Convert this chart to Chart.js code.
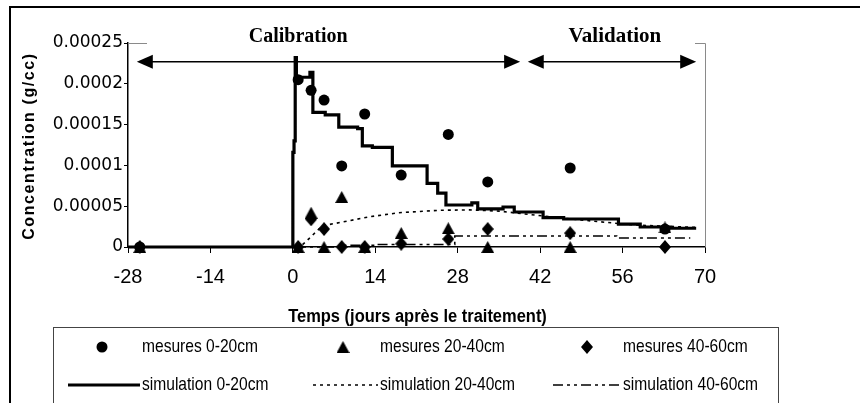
<!DOCTYPE html>
<html>
<head>
<meta charset="utf-8">
<script src="https://cdn.jsdelivr.net/npm/chart.js@4.4.1/dist/chart.umd.min.js"></script>
<style>
  html, body { margin: 0; padding: 0; background: #fff; }
</style>
</head>
<body>
<canvas id="chart" width="860" height="403"></canvas>
<script>
// ticks
const xTicks = [-28, -14, 0, 14, 28, 42, 56, 70];
const yTicks = [0, 0.00005, 0.0001, 0.00015, 0.0002, 0.00025];
const yTickLabels = ['0', '0.00005', '0.0001', '0.00015', '0.0002', '0.00025'];

// measurements (days after treatment)
const measureDays = [-26, 0.9, 3.1, 5.3, 8.3, 12.2, 18.4, 26.4, 33.1, 47.1, 63.2];
const mesures0_20  = [0, 0.000205, 0.000192, 0.00018, 0.0000993, 0.000163, 0.0000882, 0.000138, 0.0000797, 0.0000968, 0.000022];
const mesures20_40 = [0, 0, 0.000042, 0, 0.0000613, 0, 0.0000172, 0.000023, 0, 0, 0.000024];
const mesures40_60 = [0, 0, 0.000034, 0.000022, 0, 0, 0.000004, 0.0000098, 0.000022, 0.000017, 0];

// simulation 0-20cm (step levels: start day, value)
const sim0Days = [-28, 0, 0.2, 0.4, 0.6, 2.9, 3.4, 5.5, 7.8, 11.0, 11.8, 13.5, 16.9, 22.8, 24.6, 26.0, 30.4, 31.4, 35.7, 37.6, 42.5, 46.0, 55.3, 59.0, 64.0, 68.5];
const sim0Vals = [0, 0.000116, 0.00013, 0.000232, 0.000208, 0.000214, 0.000165, 0.000162, 0.000147, 0.000145, 0.000124, 0.000122, 0.0000993, 0.000078, 0.000066, 0.0000515, 0.000054, 0.0000466, 0.000049, 0.0000429, 0.000036, 0.0000343, 0.000028, 0.0000245, 0.000023, 0.000023];

// simulation 20-40cm
const sim20Days = [-28, 0, 1.5, 3, 5, 8, 13, 18, 25, 30, 35, 40, 45, 52, 58, 68.5];
const sim20Vals = [0, 0, 0.000002, 0.000012, 0.000026, 0.00003, 0.000037, 0.000042, 0.000045, 0.0000455, 0.000044, 0.00004, 0.000036, 0.000031, 0.000027, 0.000024];

// simulation 40-60cm (step levels)
const sim40Days = [-28, 0, 8, 14, 27.5, 55, 67.5];
const sim40Vals = [0, 0, 0.000002, 0.000003, 0.0000135, 0.000011, 0.000011];

// annotations
const calibration = { from: -26.5, to: 38.6, label: 'Calibration', center: 0.9 };
const validation = { from: 39.9, to: 68.5, label: 'Validation', center: 54.7 };
const arrowLevel = 0.000227;

function zip(xs, ys) {
  return xs.map((x, i) => ({ x: x, y: ys[i] }));
}

function triangleMarker() {
  const c = document.createElement('canvas');
  c.width = 13; c.height = 12;
  const g = c.getContext('2d');
  g.fillStyle = '#000';
  g.beginPath();
  g.moveTo(6.5, 0); g.lineTo(13, 12); g.lineTo(0, 12);
  g.closePath(); g.fill();
  return c;
}

function diamondMarker() {
  const c = document.createElement('canvas');
  c.width = 12; c.height = 14;
  const g = c.getContext('2d');
  g.fillStyle = '#000';
  g.beginPath();
  g.moveTo(6, 0); g.lineTo(12, 7); g.lineTo(6, 14); g.lineTo(0, 7);
  g.closePath(); g.fill();
  return c;
}

const tri = triangleMarker();
const dia = diamondMarker();

function text(ctx, str, x, y, font, sx, align) {
  ctx.save();
  ctx.font = font;
  ctx.fillStyle = '#000';
  ctx.textBaseline = 'middle';
  ctx.translate(x, y);
  ctx.scale(sx, 1);
  const w = ctx.measureText(str).width;
  let dx = 0;
  if (align === 'center') dx = -w / 2;
  if (align === 'right') dx = -w;
  ctx.fillText(str, dx, 0);
  ctx.restore();
}

function arrow(ctx, x1, x2, y) {
  const len = 16, half = 7;
  ctx.save();
  ctx.strokeStyle = '#000';
  ctx.fillStyle = '#000';
  ctx.lineWidth = 1.5;
  ctx.beginPath();
  ctx.moveTo(x1 + len - 2, y);
  ctx.lineTo(x2 - len + 2, y);
  ctx.stroke();
  ctx.beginPath();
  ctx.moveTo(x1, y); ctx.lineTo(x1 + len, y - half); ctx.lineTo(x1 + len, y + half);
  ctx.closePath(); ctx.fill();
  ctx.beginPath();
  ctx.moveTo(x2, y); ctx.lineTo(x2 - len, y - half); ctx.lineTo(x2 - len, y + half);
  ctx.closePath(); ctx.fill();
  ctx.restore();
}

const decorations = {
  id: 'decorations',
  afterDraw(chart) {
    const ctx = chart.ctx;
    const area = chart.chartArea;
    const xs = chart.scales.x, ys = chart.scales.y;

    // outer frame
    ctx.save();
    ctx.strokeStyle = '#000';
    ctx.lineWidth = 2;
    ctx.strokeRect(10, 7, 900, 500);

    // gray plot border (top partly hidden by the labels)
    ctx.strokeStyle = '#8a8a8a';
    ctx.lineWidth = 1;
    ctx.beginPath();
    ctx.moveTo(area.left, area.top + 0.5); ctx.lineTo(area.left + 19, area.top + 0.5);
    ctx.moveTo(area.right - 10, area.top + 0.5); ctx.lineTo(area.right + 0.5, area.top + 0.5);
    ctx.lineTo(area.right + 0.5, area.bottom);
    ctx.stroke();
    ctx.restore();

    // calibration / validation
    const ay = ys.getPixelForValue(arrowLevel);
    arrow(ctx, xs.getPixelForValue(calibration.from), xs.getPixelForValue(calibration.to), ay);
    arrow(ctx, xs.getPixelForValue(validation.from), xs.getPixelForValue(validation.to), ay);
    text(ctx, calibration.label, xs.getPixelForValue(calibration.center), area.top - 6,
      'bold 20px "Liberation Serif", "Times New Roman", serif', 1, 'center');
    text(ctx, validation.label, xs.getPixelForValue(validation.center), area.top - 6,
      'bold 21px "Liberation Serif", "Times New Roman", serif', 1, 'center');

    // y axis title
    ctx.save();
    ctx.translate(30, (area.top + area.bottom) / 2 + 1);
    ctx.rotate(-Math.PI / 2);
    ctx.font = 'bold 16px "Liberation Sans", Arial, sans-serif';
    ctx.letterSpacing = '1.6px';
    ctx.textAlign = 'center';
    ctx.textBaseline = 'middle';
    ctx.fillStyle = '#000';
    ctx.fillText('Concentration (g/cc)', 0, 0);
    ctx.restore();

    // x axis title
    text(ctx, 'Temps (jours après le traitement)', (area.left + area.right) / 2 + 1, 317,
      'bold 18px "Liberation Sans", Arial, sans-serif', 0.915, 'center');

    // legend
    ctx.save();
    ctx.strokeStyle = '#444';
    ctx.lineWidth = 1;
    ctx.strokeRect(53.5, 327.5, 725, 120);
    ctx.restore();

    const markerX = [102, 343, 587];
    const sampleX = [[68, 140], [313, 378], [553, 620]];
    const textX = [142, 380, 623];
    const rowY = [347, 385];
    chart.data.datasets.forEach((ds, i) => {
      const col = i % 3, row = Math.floor(i / 3);
      const y = rowY[row];
      ctx.save();
      if (ds.showLine === false) {
        if (ds.pointStyle === 'circle') {
          ctx.fillStyle = '#000';
          ctx.beginPath();
          ctx.arc(markerX[col], y, ds.pointRadius, 0, Math.PI * 2);
          ctx.fill();
        } else {
          const img = ds.pointStyle;
          ctx.drawImage(img, markerX[col] - img.width / 2, y - img.height / 2);
        }
      } else {
        ctx.strokeStyle = '#000';
        ctx.lineWidth = ds.borderWidth;
        ctx.setLineDash(ds.borderDash || []);
        ctx.beginPath();
        ctx.moveTo(sampleX[col][0], y);
        ctx.lineTo(sampleX[col][1], y);
        ctx.stroke();
      }
      ctx.restore();
      text(ctx, ds.label, textX[col], y, '19px "Liberation Sans", Arial, sans-serif', 0.82, 'left');
    });
  }
};

new Chart(document.getElementById('chart'), {
  type: 'scatter',
  data: {
    datasets: [
      { label: 'mesures 0-20cm', data: zip(measureDays, mesures0_20), showLine: false,
        pointStyle: 'circle', pointRadius: 5.5, backgroundColor: '#000', borderColor: '#000', borderWidth: 0, order: 0, clip: false },
      { label: 'mesures 20-40cm', data: zip(measureDays, mesures20_40), showLine: false,
        pointStyle: tri, pointRadius: 6, backgroundColor: '#000', borderColor: '#000', order: 0, clip: false },
      { label: 'mesures 40-60cm', data: zip(measureDays, mesures40_60), showLine: false,
        pointStyle: dia, pointRadius: 6, backgroundColor: '#000', borderColor: '#000', order: 0, clip: false },
      { label: 'simulation 0-20cm', data: zip(sim0Days, sim0Vals), showLine: true, stepped: true,
        borderColor: '#000', borderWidth: 3.2, pointRadius: 0, order: 1, clip: 4 },
      { label: 'simulation 20-40cm', data: zip(sim20Days, sim20Vals), showLine: true,
        borderColor: '#000', borderWidth: 1.6, borderDash: [3, 4], pointRadius: 0, order: 2, clip: 4 },
      { label: 'simulation 40-60cm', data: zip(sim40Days, sim40Vals), showLine: true, stepped: true,
        borderColor: '#000', borderWidth: 1.6, borderDash: [10, 4, 3, 4, 3, 4], pointRadius: 0, order: 2, clip: 4 }
    ]
  },
  options: {
    responsive: false,
    animation: false,
    devicePixelRatio: 1,
    layout: { padding: { left: 0, top: 43, right: 155, bottom: 0 } },
    plugins: { legend: { display: false }, tooltip: { enabled: false } },
    scales: {
      x: {
        type: 'linear',
        min: -28, max: 70,
        afterFit: (s) => { s.height = 156; },
        afterBuildTicks: (s) => { s.ticks = xTicks.map(v => ({ value: v })); },
        ticks: { color: '#000', padding: 12, font: { family: '"Liberation Sans", Arial, sans-serif', size: 20 } },
        grid: { display: true, drawOnChartArea: false, drawTicks: true, tickLength: 6, color: '#000', lineWidth: 1 },
        border: { display: true, color: '#000', width: 1.5 }
      },
      y: {
        type: 'linear',
        min: 0, max: 0.00025,
        afterFit: (s) => { s.width = 128; },
        afterBuildTicks: (s) => { s.ticks = yTicks.map(v => ({ value: v })); },
        ticks: {
          color: '#000', padding: 1,
          font: { family: '"DejaVu Sans", sans-serif', size: 17 },
          callback: (v) => yTickLabels[yTicks.indexOf(v)]
        },
        grid: { display: true, drawOnChartArea: false, drawTicks: true, tickLength: 4, color: '#000', lineWidth: 1 },
        border: { display: true, color: '#000', width: 1.5 }
      }
    }
  },
  plugins: [decorations]
});
</script>
</body>
</html>
